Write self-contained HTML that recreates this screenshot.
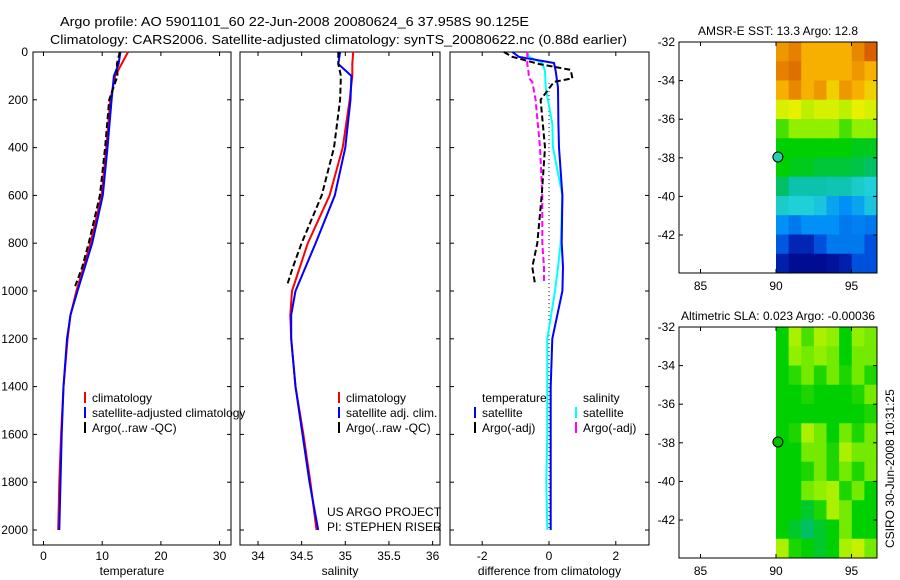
<!DOCTYPE html>
<html><head><meta charset="utf-8">
<style>
html,body{margin:0;padding:0;background:#fff;}
svg{display:block;font-family:"Liberation Sans",sans-serif;}
text{font-size:12px;fill:#000;}
</style></head>
<body>
<svg id="chart" width="900" height="580" viewBox="0 0 900 580" xmlns="http://www.w3.org/2000/svg">
<rect width="900" height="580" fill="#fff"/>
<text x="60" y="26" style="font-size:13px" textLength="469" lengthAdjust="spacingAndGlyphs">Argo profile: AO 5901101_60 22-Jun-2008 20080624_6 37.958S 90.125E</text>
<text x="50" y="44" style="font-size:13px" textLength="577" lengthAdjust="spacingAndGlyphs">Climatology: CARS2006. Satellite-adjusted climatology: synTS_20080622.nc (0.88d earlier)</text>
<g id="g"></g>
<text x="327" y="516">US ARGO PROJECT</text>
<text x="327" y="531">PI: STEPHEN RISER</text>
<text transform="translate(894,548) rotate(-90)">CSIRO 30-Jun-2008 10:31:25</text>
</svg>
<script>
// ---- data ----
const depthTicks=[0,200,400,600,800,1000,1200,1400,1600,1800,2000];
const tempTicks=[0,10,20,30];
const salTicks=[34,34.5,35,35.5,36];
const diffTicks=[-2,0,2];
const climDepth=[0,50,100,200,400,600,800,1000,1100,1200,1400,1600,1800,2000];
const tempClim=[14.4,13.3,12.2,11.4,10.7,9.9,8.0,5.6,4.6,4.1,3.4,3.0,2.7,2.5];
const tempSat=[13.1,12.8,12.0,11.6,10.9,10.1,8.3,5.8,4.6,4.0,3.4,3.1,2.9,2.7];
const argoDepth=[0,50,100,200,400,600,800,900,980];
const tempArgo=[13.0,12.5,12.6,11.2,10.5,9.6,7.7,6.6,5.4];
const salClim=[35.09,35.08,35.08,35.05,34.97,34.82,34.57,34.39,34.37,34.38,34.43,34.52,34.60,34.67];
const salSat=[34.94,34.92,35.07,35.06,35.00,34.88,34.66,34.43,34.38,34.38,34.43,34.51,34.59,34.69];
const salArgo=[34.92,34.92,34.95,34.94,34.87,34.73,34.50,34.40,34.33];
const diffDepth=[0,20,46,80,150,300,400,600,800,900,1000,1200,1400,1600,1800,2000];
const dTempSat=[-1.1,-0.9,0.15,0.2,0.27,0.28,0.3,0.4,0.38,0.42,0.4,0.1,0.05,0.05,0.05,0.05];
const dSalSat=[-0.65,-0.6,-0.2,-0.12,-0.1,0.1,0.12,0.4,0.35,0.27,0.18,-0.05,-0.05,-0.05,-0.08,-0.05];
const argoDiffDepth=[0,20,50,75,110,125,200,400,600,800,900,970];
const dTempArgo=[-1.35,-1.1,-0.3,0.65,0.7,0.15,-0.25,-0.12,-0.22,-0.35,-0.5,-0.42];
const dSalArgo=[-0.65,-0.65,-0.65,-0.62,-0.6,-0.5,-0.4,-0.27,-0.2,-0.2,-0.15,-0.15];
const lonTicks=[85,90,95];
const latTicks=[-32,-34,-36,-38,-40,-42];
const sstGrid=[
[8.3,8.6,8,8,8,8,8.5,9],[8.6,8.8,8,8,8,8,8.3,8],[8,8.5,8,8.3,7.5,8.3,8,7.5],[6.8,7,6.5,6.8,6.8,6.5,7,6.8],
[5.5,6,6,6,6,5.5,6,6],[5,5,5,5,5,5,4.8,4.8],[5,4.8,4.8,4.6,4.6,4.6,4.5,4.3],[4.3,3.6,3.6,3.6,3.5,3.5,3.2,3.0],
[3.2,3,3,2.8,2.3,2,2.3,2.8],[2,1.7,2,2,2,1.7,1.8,1.7],[1.3,0.6,0.6,1.2,1.7,1.7,1.7,1.2],[0.5,0.2,0.2,0.2,0.3,0.5,1.2,1.2]];
const slaGrid=[
[5,6.3,5.5,6.3,6,5,6,5.8],[5,6,5.8,6,5.8,5,5.8,5.8],[5,5.3,5.8,5.2,5.8,5.2,5.8,5.2],[5,5,5.2,5,5,5,5.2,5.8],
[5,5,5,5,5,5,5,5.2],[5,5.2,6.3,5.8,5,5.8,5.2,5.8],[5,5,5.8,5.8,5.2,6.3,5.8,5.8],[5,5,5.2,5.8,5.2,5.8,5.2,5.8],
[5,5,5.8,6,6.3,5.2,5.8,5],[5,5,4.7,5.2,6.3,5.8,5,5],[5,4.7,4.3,4.7,5,5.8,5,5],[6.3,5.2,5,4.7,5,6.3,6.6,5.8]];
const argoLon=90.125, argoLat=-37.958;

// ---- drawing ----
const NS="http://www.w3.org/2000/svg";
const G=document.getElementById('g');
function mk(t,a,p){const e=document.createElementNS(NS,t);for(const k in a)e.setAttribute(k,a[k]);(p||G).appendChild(e);return e;}
const Y0=52,PXM=0.239,YB=545;
const yD=d=>Y0+d*PXM;
const panels=[
 {x0:33,x1:231,v0:0,px0:43.5,s:5.87,ticks:tempTicks,label:'temperature',name:'temperature-panel'},
 {x0:240,x1:440,v0:34,px0:258,s:87.3,ticks:salTicks,label:'salinity',name:'salinity-panel'},
 {x0:450,x1:649,v0:0,px0:549,s:33.4,ticks:diffTicks,label:'difference from climatology',name:'difference-panel'}];
panels.forEach((p,i)=>{
 p.x=v=>p.px0+(v-p.v0)*p.s;
 const r=mk('rect',{x:p.x0,y:Y0,width:p.x1-p.x0,height:YB-Y0,fill:'none',stroke:'#000','stroke-width':1});
 
 
 p.ticks.forEach(t=>{
  const x=p.x(t);
  mk('line',{x1:x,x2:x,y1:YB,y2:YB-4,stroke:'#000'});
  mk('line',{x1:x,x2:x,y1:Y0,y2:Y0+4,stroke:'#000'});
  const tx=mk('text',{x:x,y:YB+15,'text-anchor':'middle'});tx.textContent=String(t);
  
  
 });
 depthTicks.forEach(d=>{
  const y=yD(d);
  mk('line',{x1:p.x0,x2:p.x0+4,y1:y,y2:y,stroke:'#000'});
  mk('line',{x1:p.x1,x2:p.x1-4,y1:y,y2:y,stroke:'#000'});
  if(i==0){const tx=mk('text',{x:28,y:y+4,'text-anchor':'end'});tx.textContent=String(d);
   
   }
 });
 const xl=mk('text',{x:(p.x0+p.x1)/2,y:575,'text-anchor':'middle'});xl.textContent=p.label;
 
 
});
function line(p,vals,deps,color,dash,name,w){
 const pts=vals.map((v,k)=>p.x(v).toFixed(1)+','+yD(deps[k]).toFixed(1)).join(' ');
 const e=mk('polyline',{points:pts,fill:'none',stroke:color,'stroke-width':w||2,'stroke-dasharray':dash||'none'});
 
 
}
const P=panels;
line(P[0],tempClim,climDepth,'#f00',null,'temp-climatology-line');
line(P[0],tempSat,climDepth,'#00f',null,'temp-satellite-line');
line(P[0],tempArgo,argoDepth,'#000','6,3','temp-argo-line');
line(P[1],salClim,climDepth,'#f00',null,'sal-climatology-line');
line(P[1],salSat,climDepth,'#00f',null,'sal-satellite-line');
line(P[1],salArgo,argoDepth,'#000','6,3','sal-argo-line');
mk('line',{x1:P[2].x(0),x2:P[2].x(0),y1:yD(130),y2:yD(2000),stroke:'#000','stroke-dasharray':'1,3'});
line(P[2],dSalSat,diffDepth,'#0ff',null,'diff-sal-satellite-line');
line(P[2],dTempSat,diffDepth,'#00f',null,'diff-temp-satellite-line');
line(P[2],dSalArgo,argoDiffDepth,'#f0f','6,3','diff-sal-argo-line');
line(P[2],dTempArgo,argoDiffDepth,'#000','6,3','diff-temp-argo-line');
function leg(x,y,color,txt,name){
 mk('line',{x1:x,x2:x,y1:y-10,y2:y+1,stroke:color,'stroke-width':2});
 const t=mk('text',{x:x+7,y:y});t.textContent=txt;
 
 
}
leg(85,402,'#f00','climatology','legend-entry-climatology');
leg(85,417,'#00f','satellite-adjusted climatology','legend-entry-satellite');
leg(85,432,'#000','Argo(..raw -QC)','legend-entry-argo');
leg(339,402,'#f00','climatology','legend-entry-climatology');
leg(339,417,'#00f','satellite adj. clim.','legend-entry-satellite');
leg(339,432,'#000','Argo(..raw -QC)','legend-entry-argo');
let t=mk('text',{x:482,y:402});t.textContent='temperature';
t=mk('text',{x:583,y:402});t.textContent='salinity';
leg(475,417,'#00f','satellite','legend-entry-temp-satellite');
leg(475,432,'#000','Argo(-adj)','legend-entry-temp-argo');
leg(576,417,'#0ff','satellite','legend-entry-sal-satellite');
leg(576,432,'#f0f','Argo(-adj)','legend-entry-sal-argo');

// maps
const pal=['#000080','#0040d8','#0090f8','#20d0d8','#00b890','#00d000','#90f000','#e8f000','#f8b000','#d86000'];
function col(v){const i=Math.min(8,Math.floor(v)),f=v-i;
 const a=pal[i],b=pal[i+1];const c=k=>Math.round(parseInt(a.substr(k,2),16)*(1-f)+parseInt(b.substr(k,2),16)*f);
 return 'rgb('+c(1)+','+c(3)+','+c(5)+')';}
function map(top,grid,title,name,mfill){
 const L=679,R=877,H=231,lx=v=>776+(v-90)*15.1,ly=v=>top+(-32-v)*19.3;
 const ncol=grid[0].length,nrow=grid.length,cw=(R-776)/ncol,ch=H/nrow;
 grid.forEach((row,r)=>row.forEach((v,c)=>{
  const e=mk('rect',{x:776+c*cw,y:top+r*ch,width:cw+0.5,height:ch+0.5,fill:col(v)});
  
  
 }));
 const f=mk('rect',{x:L,y:top,width:R-L,height:H,fill:'none',stroke:'#000'});
 
 
 latTicks.forEach(v=>{const y=ly(v);mk('line',{x1:L,x2:L+4,y1:y,y2:y,stroke:'#000'});mk('line',{x1:R,x2:R-4,y1:y,y2:y,stroke:'#000'});
  const tx=mk('text',{x:675,y:y+4,'text-anchor':'end'});tx.textContent=String(v);
  
  });
 lonTicks.forEach(v=>{const x=lx(v);mk('line',{x1:x,x2:x,y1:top+H,y2:top+H-4,stroke:'#000'});mk('line',{x1:x,x2:x,y1:top,y2:top+4,stroke:'#000'});
  const tx=mk('text',{x:x,y:top+H+17,'text-anchor':'middle'});tx.textContent=String(v);
  
  });
 const c=mk('circle',{cx:lx(argoLon),cy:ly(argoLat),r:5,fill:mfill,stroke:'#000'});
 
 
 const tt=mk('text',{x:(L+R)/2,y:top-7,'text-anchor':'middle'});tt.textContent=title;
 
 
}
map(42,sstGrid,'AMSR-E SST: 13.3 Argo: 12.8','sst-map','#20d0b0');
map(327,slaGrid,'Altimetric SLA: 0.023 Argo: -0.00036','sla-map','#00c000');
</script>
</body></html>
